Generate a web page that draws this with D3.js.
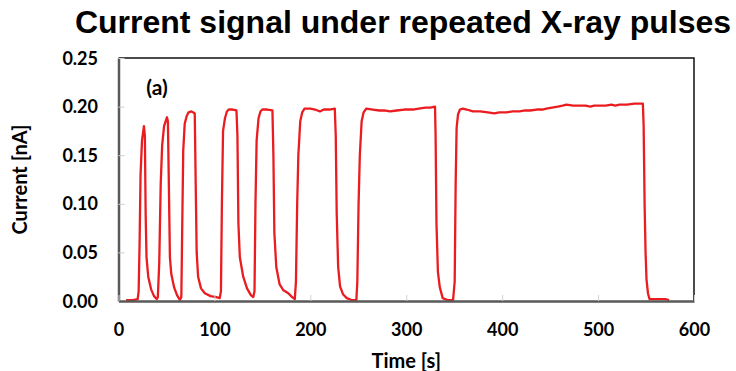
<!DOCTYPE html>
<html>
<head>
<meta charset="utf-8">
<script src="https://cdn.jsdelivr.net/npm/d3@7"></script>
<style>
  body { margin: 0; background: #fff; }
  svg { display: block; }
</style>
</head>
<body>
<div id="chart-area"></div>
<script>
var width = 736;
var height = 371;

// time [s] and current [nA]
var times = [
  8, 15, 20,
  21, 22, 23, 24.5, 26.5, 27.5, 28.3, 29.2, 31, 34, 37, 39.8,
  41, 42.5, 44, 45.5, 47.5, 50.5, 51.5, 52.5, 53.6, 55, 58, 61, 64,
  65.5, 66.5, 67.5, 69, 71, 73, 76, 78, 79.5, 80.5, 81.5, 83, 86, 90, 96, 102, 105.5,
  106.8, 107.8, 109, 111, 113, 115, 119, 123, 124, 125, 126.5, 130, 134, 138, 140.5,
  141.8, 142.8, 144, 146, 148, 150, 155, 160.5, 161.5, 162.5, 164.5, 168, 172, 177, 181, 183.8,
  185, 186.3, 187.5, 189.5, 191.5, 194, 200, 205, 210, 214, 220, 225.5, 226.5, 227.5, 229, 231, 234, 238, 243, 248,
  249, 250.3, 251.6, 253.5, 255.5, 258.5, 265, 272, 277, 283, 290, 298, 307, 313, 320, 325, 330, 330.6, 331.5, 333, 335, 338, 343, 348.8,
  350.5, 351.5, 352.5, 354, 356, 359, 363, 369.5, 377, 385, 392, 397, 404, 411, 418, 424, 429, 436, 442, 446, 452, 458, 463, 467,
  474, 481, 487, 492, 496, 501, 508, 514, 518, 522.4, 530, 538, 542, 546.7, 547.5, 548.5, 549.5, 550.5, 552, 553.6, 560, 565, 570, 574
];
var currents = [
  0.001, 0.001, 0.002,
  0.010, 0.060, 0.130, 0.165, 0.180, 0.170, 0.090, 0.045, 0.025, 0.012, 0.005, 0.002,
  0.004, 0.040, 0.120, 0.160, 0.180, 0.189, 0.185, 0.120, 0.045, 0.028, 0.014, 0.006, 0.001,
  0.004, 0.080, 0.155, 0.182, 0.190, 0.194, 0.195, 0.194, 0.193, 0.120, 0.050, 0.025, 0.013, 0.008, 0.005, 0.004, 0.003,
  0.010, 0.100, 0.175, 0.188, 0.195, 0.197, 0.197, 0.196, 0.170, 0.080, 0.045, 0.025, 0.013, 0.006, 0.004,
  0.010, 0.100, 0.165, 0.188, 0.195, 0.197, 0.197, 0.196, 0.150, 0.070, 0.035, 0.017, 0.011, 0.008, 0.004, 0.002,
  0.020, 0.100, 0.150, 0.185, 0.194, 0.198, 0.198, 0.197, 0.195, 0.197, 0.197, 0.198, 0.170, 0.090, 0.035, 0.015, 0.007, 0.003, 0.001, 0.001,
  0.020, 0.100, 0.150, 0.185, 0.194, 0.198, 0.197, 0.196, 0.196, 0.195, 0.196, 0.197, 0.197, 0.198, 0.199, 0.199, 0.200, 0.170, 0.080, 0.030, 0.014, 0.003, 0.001, 0.001,
  0.020, 0.120, 0.178, 0.192, 0.197, 0.198, 0.197, 0.195, 0.195, 0.194, 0.193, 0.194, 0.194, 0.195, 0.195, 0.196, 0.196, 0.197, 0.197, 0.198, 0.199, 0.200, 0.201, 0.202,
  0.201, 0.201, 0.201, 0.200, 0.201, 0.201, 0.201, 0.202, 0.201, 0.202, 0.202, 0.203, 0.203, 0.203, 0.180, 0.100, 0.050, 0.022, 0.008, 0.002, 0.002, 0.002, 0.002, 0.001
];
var xTicks = [0, 100, 200, 300, 400, 500, 600];
var yTicks = [0, 0.05, 0.10, 0.15, 0.20, 0.25];

var data = times.map(function(t, i) { return {t: t, v: currents[i]}; });

var margin = {top: 58, right: 42, bottom: 70, left: 118.5};
var innerW = width - margin.left - margin.right;
var innerH = height - margin.top - margin.bottom;

var svg = d3.select("#chart-area").append("svg")
    .attr("width", width)
    .attr("height", height);

var g = svg.append("g")
    .attr("transform", "translate(" + margin.left + ", " + margin.top + ")");

var x = d3.scaleLinear()
    .domain([0, 600])
    .range([0, innerW]);

var y = d3.scaleLinear()
    .domain([0, 0.25])
    .range([innerH, 0]);

// top and right frame
g.append("path")
    .attr("d", "M0,0H" + innerW + "V" + innerH)
    .attr("fill", "none")
    .attr("stroke", "#111")
    .attr("stroke-width", 1.5);

var line = d3.line()
    .x((d) => { return x(d.t); })
    .y((d) => { return y(d.v); });

g.append("path")
    .datum(data)
    .attr("d", line)
    .attr("fill", "none")
    .attr("stroke", "#ea1c1f")
    .attr("stroke-width", 2.3)
    .attr("stroke-linejoin", "round");

var yAxisGroup = g.append("g")
    .attr("class", "y axis")
    .call(d3.axisLeft(y).tickValues(yTicks).tickSizeInner(-6).tickSizeOuter(0)
        .tickPadding(20.5).tickFormat(d3.format(".2f")));

var xAxisGroup = g.append("g")
    .attr("class", "x axis")
    .attr("transform", "translate(0, " + innerH + ")")
    .call(d3.axisBottom(x).tickValues(xTicks).tickSizeInner(-6).tickSizeOuter(0)
        .tickPadding(22));

svg.selectAll(".axis .domain")
    .attr("stroke", "#595959")
    .attr("stroke-width", 2.5);
svg.selectAll(".axis .tick line")
    .attr("stroke", "#d0d0d0");
svg.selectAll(".axis .tick text")
    .attr("font-family", "Lato, 'Open Sans', sans-serif")
    .attr("font-weight", "bold")
    .attr("font-size", "18px")
    .attr("fill", "#000");
yAxisGroup.selectAll(".tick text").attr("dy", "0.34em");

g.append("text")
    .attr("x", 38.5)
    .attr("y", 37)
    .attr("font-family", "Lato, 'Open Sans', sans-serif")
    .attr("font-weight", "bold")
    .attr("font-size", "21px")
    .attr("text-anchor", "middle")
    .text("(a)");

svg.append("text")
    .attr("x", 403)
    .attr("y", 33)
    .attr("font-family", "'Liberation Sans', Arial, sans-serif")
    .attr("font-weight", "bold")
    .attr("font-size", "32px")
    .attr("text-anchor", "middle")
    .text("Current signal under repeated X-ray pulses");

svg.append("text")
    .attr("x", margin.left + innerW / 2)
    .attr("y", 368)
    .attr("font-family", "Lato, 'Open Sans', sans-serif")
    .attr("font-weight", "bold")
    .attr("font-size", "20px")
    .attr("text-anchor", "middle")
    .text("Time [s]");

svg.append("text")
    .attr("transform", "translate(27, " + (margin.top + innerH / 2) + ") rotate(-90)")
    .attr("font-family", "Lato, 'Open Sans', sans-serif")
    .attr("font-weight", "bold")
    .attr("font-size", "20px")
    .attr("text-anchor", "middle")
    .text("Current [nA]");
</script>
</body>
</html>
